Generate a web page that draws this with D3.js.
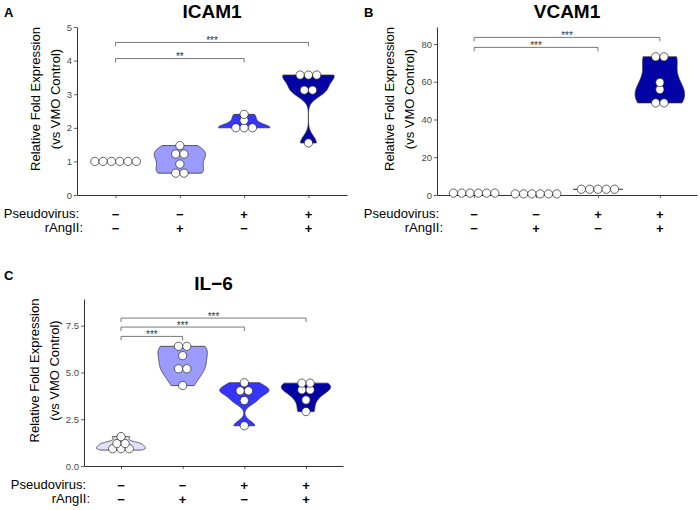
<!DOCTYPE html>
<html><head><meta charset="utf-8">
<script src="https://cdn.jsdelivr.net/npm/d3@7"></script>
<style>
body{margin:0;background:#fff}
text{font-family:"Liberation Sans",Arial,Helvetica,sans-serif}
</style>
</head><body>
<svg id="chart" width="700" height="510"></svg>
<script>
// ---------------- data ----------------
const categories = ["VMO", "rAngII", "Pseudovirus", "Pseudovirus + rAngII"];
const pseudovirusSigns = ["\u2212", "\u2212", "+", "+"];
const angiiSigns = ["\u2212", "+", "\u2212", "+"];

const icam1Values = [
  [1.0, 1.0, 1.0, 1.0, 1.0, 1.0],
  [1.47, 1.22, 1.22, 0.92, 0.65, 0.65],
  [2.40, 2.22, 2.0, 2.0, 2.0],
  [3.57, 3.57, 3.57, 3.12, 3.12, 1.55]
];
const vcam1Values = [
  [1.0, 1.0, 1.0, 1.0, 1.0, 1.0],
  [0.6, 0.6, 0.6, 0.6, 0.6, 0.6],
  [2.9, 3.0, 3.0, 3.1, 3.2],
  [73.2, 73.2, 59.6, 55.9, 48.8, 48.8]
];
const il6Values = [
  [1.57, 1.22, 1.18, 1.0, 0.92, 0.85],
  [6.40, 6.40, 5.90, 5.20, 5.20, 4.30],
  [4.45, 4.02, 4.02, 3.50, 2.15],
  [4.43, 4.43, 4.07, 4.07, 3.53, 2.91]
];

const icam1Ticks = [0, 1, 2, 3, 4, 5];
const vcam1Ticks = [0, 20, 40, 60, 80];
const il6Ticks = [0, 2.5, 5, 7.5];

const icam1Max = 5, vcam1Max = 89, il6Max = 8.93;

// significance comparisons: [groupFrom, groupTo, label, bracket height (data units)]
const icam1Sig = [[0, 3, "***", 4.54], [0, 2, "**", 4.06]];
const vcam1Sig = [[0, 3, "***", 83.5], [0, 2, "***", 78.2]];
const il6Sig = [[0, 3, "***", 7.91], [0, 2, "***", 7.43], [0, 1, "***", 6.93]];

const groupColors = ["#e0e0fc", "#9b9bff", "#3535ff", "#0303a6"];

// ---------------- layout ----------------
const panels = [
  {letter: "A", title: "ICAM1", values: icam1Values, ticks: icam1Ticks, ymax: icam1Max, fmt: d3.format("d"), sig: icam1Sig,
   left: 77, right: 347, top: 27, bottom: 195, lx: 4, ly: 17},
  {letter: "B", title: "VCAM1", values: vcam1Values, ticks: vcam1Ticks, ymax: vcam1Max, fmt: d3.format("d"), sig: vcam1Sig,
   left: 437, right: 697, top: 27, bottom: 195, lx: 364, ly: 17},
  {letter: "C", title: "IL\u22126", values: il6Values, ticks: il6Ticks, ymax: il6Max, fmt: d3.format(".1f"), sig: il6Sig,
   left: 84, right: 343, top: 299, bottom: 466, lx: 4, ly: 280}
];

const svg = d3.select("#chart");
const dotR = 4.15;

function nrd0(x) {
  const n = x.length;
  const sd = d3.deviation(x) || 0;
  const s = x.slice().sort(d3.ascending);
  const iqr = d3.quantile(s, 0.75) - d3.quantile(s, 0.25);
  let lo = Math.min(sd, iqr / 1.34);
  if (!(lo > 0)) lo = sd || Math.abs(s[0]) || 1;
  return 0.9 * lo * Math.pow(n, -0.2);
}

function violinData(vals) {
  const bw = nrd0(vals);
  const lo = d3.min(vals), hi = d3.max(vals);
  const pts = d3.range(0, 201).map(i => {
    const v = lo + (hi - lo) * i / 200;
    const d = d3.sum(vals, x => Math.exp(-0.5 * ((v - x) / bw) ** 2));
    return {v, d};
  });
  const m = d3.max(pts, p => p.d);
  pts.forEach(p => p.d /= m);
  return pts;
}

function dotBins(vals, binW) {
  const s = vals.slice().sort(d3.ascending);
  const bins = [];
  let i = 0;
  while (i < s.length) {
    const start = s[i];
    let j = i;
    while (j + 1 < s.length && s[j + 1] - start <= binW) j++;
    bins.push({center: (start + s[j]) / 2, count: j - i + 1});
    i = j + 1;
  }
  return bins;
}

panels.forEach(p => {
  const g = svg.append("g");
  const x = d3.scalePoint().domain(categories).range([p.left, p.right]).padding(0.6);
  const y = d3.scaleLinear().domain([0, p.ymax]).range([p.bottom, p.top]);
  const halfW = x.step() * 0.8 / 2;

  // letter + title
  g.append("text").attr("x", p.lx).attr("y", p.ly).attr("font-size", 13).attr("font-weight", "bold").text(p.letter);
  g.append("text").attr("x", (p.left + p.right) / 2).attr("y", p.top - 9.5).attr("text-anchor", "middle")
    .attr("font-size", 19).attr("font-weight", "bold").text(p.title);

  // axes
  const yAx = g.append("g").attr("transform", `translate(${p.left},0)`)
    .call(d3.axisLeft(y).tickValues(p.ticks).tickFormat(p.fmt).tickSize(3).tickSizeOuter(0).tickPadding(2));
  const xAx = g.append("g").attr("transform", `translate(0,${p.bottom})`)
    .call(d3.axisBottom(x).tickSize(3).tickSizeOuter(0).tickFormat(""));
  [yAx, xAx].forEach(a => {
    a.select(".domain").attr("stroke", "#333").attr("stroke-width", 1);
    a.selectAll(".tick line").attr("stroke", "#333").attr("stroke-width", 0.8);
    a.selectAll(".tick text").attr("fill", "#4a4a4a").attr("font-size", 9.5)
      .style("font-family", '"Liberation Sans",Arial,sans-serif');
  });

  // y title
  const bb = yAx.node().getBBox();
  const l1 = p.left + bb.x - 27;
  const yt = g.append("g").attr("transform", `translate(${l1},${(p.top + p.bottom) / 2 - 12}) rotate(-90)`);
  yt.append("text").attr("text-anchor", "middle").attr("font-size", 13).text("Relative Fold Expression");
  yt.append("text").attr("text-anchor", "middle").attr("y", 20).attr("font-size", 13).text("(vs VMO Control)");

  // condition rows
  const r1 = p.bottom + 23, r2 = p.bottom + 37;
  g.append("text").attr("x", p.left + 2).attr("y", r1).attr("text-anchor", "end").attr("font-size", 13).text("Pseudovirus:");
  g.append("text").attr("x", p.left + 6).attr("y", r2).attr("text-anchor", "end").attr("font-size", 13).text("rAngII:");
  categories.forEach((c, i) => {
    g.append("text").attr("x", x(c)).attr("y", r1 + 0.5).attr("text-anchor", "middle").attr("font-size", 13)
      .attr("font-weight", "bold").text(pseudovirusSigns[i]);
    g.append("text").attr("x", x(c)).attr("y", r2 + 0.5).attr("text-anchor", "middle").attr("font-size", 13)
      .attr("font-weight", "bold").text(angiiSigns[i]);
  });

  // violins
  const area = d3.area().curve(d3.curveLinear);
  categories.forEach((c, i) => {
    const vals = p.values[i];
    if (!(d3.deviation(vals) > 0)) return;
    const pts = violinData(vals);
    const cx = x(c);
    area.y(d => y(d.v)).x0(d => cx - halfW * d.d).x1(d => cx + halfW * d.d);
    g.append("path").attr("d", area(pts)).attr("fill", groupColors[i])
      .attr("stroke", "#333").attr("stroke-width", 0.8).attr("stroke-linejoin", "round");
  });

  // dots
  const binW = y.invert(p.bottom - 5.5) - y.invert(p.bottom);
  categories.forEach((c, i) => {
    const cx = x(c);
    dotBins(p.values[i], binW).forEach(b => {
      d3.range(b.count).forEach(k => {
        g.append("circle").attr("cx", cx + (k - (b.count - 1) / 2) * dotR * 2)
          .attr("cy", y(b.center)).attr("r", dotR)
          .attr("fill", "#fff").attr("stroke", "#222").attr("stroke-width", 0.7);
      });
    });
  });

  // significance brackets
  p.sig.forEach(([a, b, lab, h]) => {
    const x1 = x(categories[a]), x2 = x(categories[b]), yy = y(h);
    g.append("path").attr("d", `M${x1},${yy + 4}V${yy}H${x2}V${yy + 4}`)
      .attr("fill", "none").attr("stroke", "#555").attr("stroke-width", 0.8);
    g.append("text").attr("x", (x1 + x2) / 2).attr("y", yy + 1.5).attr("text-anchor", "middle")
      .attr("font-size", 10).attr("fill", "#333").text(lab);
  });
});
</script>
</body></html>
